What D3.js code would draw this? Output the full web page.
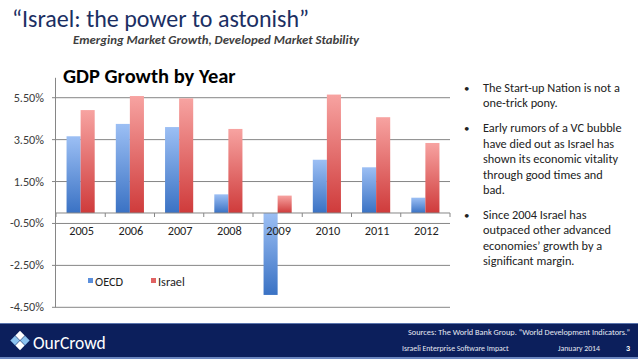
<!DOCTYPE html>
<html><head><meta charset="utf-8">
<script src="https://cdn.jsdelivr.net/npm/d3@7"></script>
<style>
html,body{margin:0;padding:0;background:#fff;}
svg{display:block;font-family:Carlito,Lato,"Open Sans",sans-serif;}
</style></head>
<body><svg id="c" width="638" height="359"></svg>
<script>
const years = ["2005","2006","2007","2008","2009","2010","2011","2012"];
const oecd = [3.66, 4.25, 4.10, 0.89, -3.91, 2.54, 2.18, 0.73];
const israel = [4.91, 5.58, 5.47, 4.01, 0.83, 5.65, 4.57, 3.34];
const seriesNames = ["OECD", "Israel"];
const yTicks = [-4.5, -2.5, -0.5, 1.5, 3.5, 5.5];
const bullets = [
  ["The Start-up Nation is not a", "one-trick pony."],
  ["Early rumors of a VC bubble", "have died out as Israel has", "shown its economic vitality", "through good times and", "bad."],
  ["Since 2004 Israel has", "outpaced other advanced", "economies\u2019 growth by a", "significant margin."]
];

const svg = d3.select("#c");
const defs = svg.append("defs");
function grad(id, top, bot){
  const g = defs.append("linearGradient").attr("id", id).attr("x1",0).attr("y1",0).attr("x2",0).attr("y2",1);
  g.append("stop").attr("offset","0%").attr("stop-color",top);
  g.append("stop").attr("offset","100%").attr("stop-color",bot);
}
grad("gB", "#9cbff4", "#3a72c4");
grad("gR", "#f7a3a1", "#cf3b3b");

// Titles
svg.append("text").attr("x",12).attr("y",27).attr("fill","#1b2f63")
  .style("font-size","24px").text("\u201CIsrael: the power to astonish\u201D");
svg.append("text").attr("x",73).attr("y",44).attr("fill","#3f3f3f")
  .style("font-size","12.8px").style("font-style","italic").style("font-weight","700")
  .text("Emerging Market Growth, Developed Market Stability");

// Chart
const x = d3.scaleBand().domain(years).range([56, 450]).paddingInner(0).paddingOuter(0);
const x1 = d3.scaleBand().domain(seriesNames).range([0, x.bandwidth()]).paddingInner(0).paddingOuter(0.75);
const y = d3.scaleLinear().domain([-4.5, 6.45]).range([307.3, 77.8]);

const gridC = "#868686";
const g = svg.append("g");
g.selectAll("line.grid").data(yTicks).join("line")
  .attr("x1", 52).attr("x2", 450)
  .attr("y1", d => y(d)).attr("y2", d => y(d))
  .attr("stroke", gridC).attr("stroke-width", 1);
g.append("line").attr("x1",55.5).attr("x2",55.5).attr("y1",y(6.45)).attr("y2",y(-4.5)).attr("stroke",gridC);
g.selectAll("text.yl").data(yTicks).join("text")
  .attr("x", 44).attr("y", d => y(d)+4).attr("text-anchor","end")
  .attr("fill","#3a3a3a").style("font-size","12.2px")
  .text(d => (d<0?"-":"") + Math.abs(d).toFixed(2) + "%");

const data = years.map((yr,i)=>({yr, vals:[{s:"OECD",v:oecd[i]},{s:"Israel",v:israel[i]}]}));
const grp = g.selectAll("g.yr").data(data).join("g").attr("transform", d => `translate(${x(d.yr)},0)`);
grp.selectAll("rect").data(d => d.vals).join("rect")
  .attr("x", d => x1(d.s)).attr("width", x1.bandwidth())
  .attr("y", d => y(Math.max(0,d.v))).attr("height", d => Math.abs(y(d.v)-y(0)))
  .attr("fill", d => d.s==="OECD" ? "url(#gB)" : "url(#gR)");

g.append("line").attr("x1",55).attr("x2",450).attr("y1",y(0)).attr("y2",y(0)).attr("stroke",gridC);
const bounds = years.map(d => x(d)).concat([x(years[years.length-1]) + x.bandwidth()]);
g.selectAll("line.tk").data(bounds).join("line")
  .attr("x1", d=>d).attr("x2", d=>d).attr("y1", y(0)).attr("y2", y(0)+4).attr("stroke", gridC);
g.selectAll("text.xl").data(years).join("text")
  .attr("x", d => x(d)+x.bandwidth()/2+1).attr("y", 235).attr("text-anchor","middle")
  .attr("fill","#1e1e1e").style("font-size","12.3px").text(d=>d);

svg.append("text").attr("x",63).attr("y",83).attr("fill","#000")
  .style("font-size","20.5px").style("font-weight","700").text("GDP Growth by Year");

const leg = [{s:"OECD",x:88,c:"#5b8fdc"},{s:"Israel",x:151,c:"#e06363"}];
leg.forEach(l=>{
  svg.append("rect").attr("x",l.x).attr("y",278).attr("width",5).attr("height",5).attr("fill",l.c);
  svg.append("text").attr("x",l.x+7).attr("y",285.5).attr("fill","#1e1e1e").style("font-size","12.3px").text(l.s);
});

let by = 92;
bullets.forEach((b,bi)=>{
  svg.append("text").attr("x",464).attr("y",by).attr("fill","#222").style("font-size","11px").text("\u2022");
  b.forEach((ln,li)=>{
    svg.append("text").attr("x",483).attr("y",by + li*15.4).attr("fill","#222").style("font-size","12.3px").text(ln);
  });
  by += b.length*15.4 + 9.5;
});

svg.append("rect").attr("x",0).attr("y",323).attr("width",638).attr("height",34).attr("fill","#0c1f5c");
svg.append("line").attr("x1",0).attr("x2",638).attr("y1",323.5).attr("y2",323.5).attr("stroke","#5a74ad").attr("stroke-width",1);
svg.append("rect").attr("x",0).attr("y",357).attr("width",638).attr("height",2).attr("fill","#6b86bf");
const ic = svg.append("g").attr("transform","translate(20,340.5)");
[[0,-5,"#ffffff"],[5,0,"#8cc2ee"],[0,5,"#ffffff"],[-5,0,"#8cc2ee"]].forEach(p=>{
  ic.append("rect").attr("x",p[0]-3.3).attr("y",p[1]-3.3).attr("width",6.6).attr("height",6.6)
    .attr("transform",`rotate(45,${p[0]},${p[1]})`).attr("fill",p[2]);
});
svg.append("text").attr("x",33).attr("y",348.5).attr("fill","#fff").style("font-size","17.5px").text("OurCrowd");
svg.append("text").attr("x",630).attr("y",335).attr("text-anchor","end").attr("fill","#e6e9f2").style("font-size","8.3px")
  .text("Sources: The World Bank Group. \u201CWorld Development Indicators.\u201D");
svg.append("text").attr("x",402).attr("y",351).attr("fill","#e6e9f2").style("font-size","7.8px").text("Israeli Enterprise Software Impact");
svg.append("text").attr("x",558).attr("y",351).attr("fill","#e6e9f2").style("font-size","7.8px").text("January 2014");
svg.append("text").attr("x",626).attr("y",351).attr("fill","#fff").style("font-size","8px").style("font-weight","700").text("3");
</script></body></html>
